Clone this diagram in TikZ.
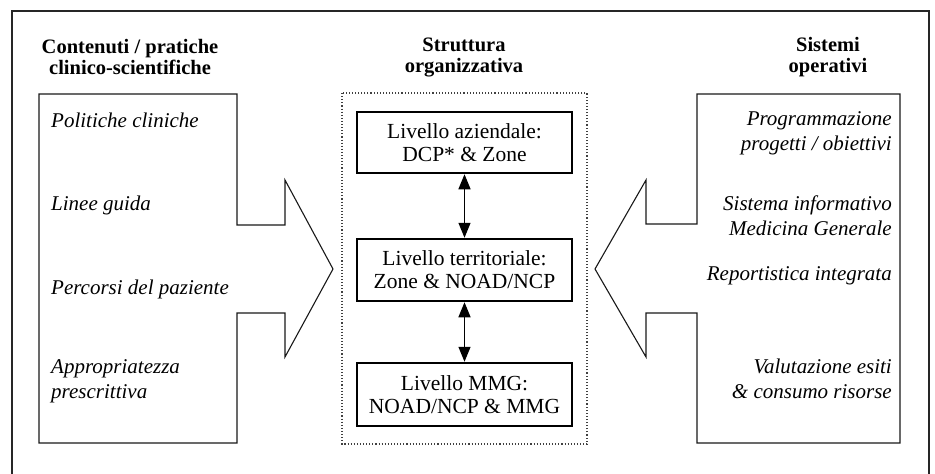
\documentclass[tikz,border=0pt]{standalone}
\usepackage{fontspec}
\setmainfont{Liberation Serif}
\usetikzlibrary{arrows.meta}

\tikzset{
  frameline/.style={line width=1.4pt, draw=black!85},
  blockarrow/.style={line width=1.1pt, draw=black!90, line join=miter},
  groupbox/.style={draw=black!75, dotted, line width=1.1pt},
  levelbox/.style={draw=black, line width=1.5pt, minimum width=215pt,
    align=center, inner sep=0pt, font=\fontsize{21.5}{23}\selectfont},
  heading/.style={align=center, inner sep=0pt, font=\bfseries\fontsize{20.5}{21}\selectfont},
  itemL/.style={anchor=west, align=left, inner sep=0pt, font=\itshape\fontsize{21}{25}\selectfont},
  itemR/.style={anchor=east, align=right, inner sep=0pt, font=\itshape\fontsize{21}{25}\selectfont},
  link/.style={line width=1.3pt, {Triangle[length=15pt,width=12pt]}-{Triangle[length=15pt,width=12pt]}, shorten <=0.5pt, shorten >=0.5pt}
}

\begin{document}
\begin{tikzpicture}[x=1pt, y=-1pt]
\useasboundingbox (0,0) rectangle (935,474);

% outer frame, open at the bottom
\draw[frameline] (12,474) -- (12,11) -- (929,11) -- (929,474);

% column headings
\node[heading] (hL) at (130,57) {Contenuti / pratiche\\clinico-scientifiche};
\node[heading] (hC) at (464,57) {Struttura\\organizzativa};
\node[heading] (hR) at (828,57) {Sistemi\\operativi};

% left block arrow pointing right
\draw[blockarrow] (39,94) -- (237,94) -- (237,225) -- (285,225) -- (285,180)
  -- (333,269) -- (285,357) -- (285,313) -- (237,313) -- (237,443) -- (39,443) -- cycle;

% right block arrow pointing left
\draw[blockarrow] (900,94) -- (697,94) -- (697,224) -- (646,224) -- (646,180)
  -- (595,269) -- (646,357) -- (646,313) -- (697,313) -- (697,443) -- (900,443) -- cycle;

% organisational structure
\draw[groupbox] (342,93) rectangle (587,444);
\node[levelbox, minimum height=61pt] (az) at (464.5,142.5) {Livello aziendale:\\DCP* \& Zone};
\node[levelbox, minimum height=62pt] (te) at (464.5,270) {Livello territoriale:\\Zone \& NOAD/NCP};
\node[levelbox, minimum height=63pt] (mm) at (464.5,394.5) {Livello MMG:\\NOAD/NCP \& MMG};
\draw[link] (az.south) -- (te.north);
\draw[link] (te.south) -- (mm.north);

% clinical contents
\node[itemL] (l1) at (51,120) {Politiche cliniche};
\node[itemL] (l2) at (51,205) {Linee guida};
\node[itemL] (l3) at (51,289) {Percorsi del paziente};
\node[itemL] (l4) at (51,381) {Appropriatezza\\prescrittiva};

% operating systems
\node[itemR] (r1) at (892,133) {Programmazione\\progetti / obiettivi};
\node[itemR] (r2) at (892,216) {Sistema informativo\\Medicina Generale};
\node[itemR] (r3) at (892,276) {Reportistica integrata};
\node[itemR] (r4) at (892,379) {Valutazione esiti\\\& consumo risorse};
\end{tikzpicture}
\end{document}
